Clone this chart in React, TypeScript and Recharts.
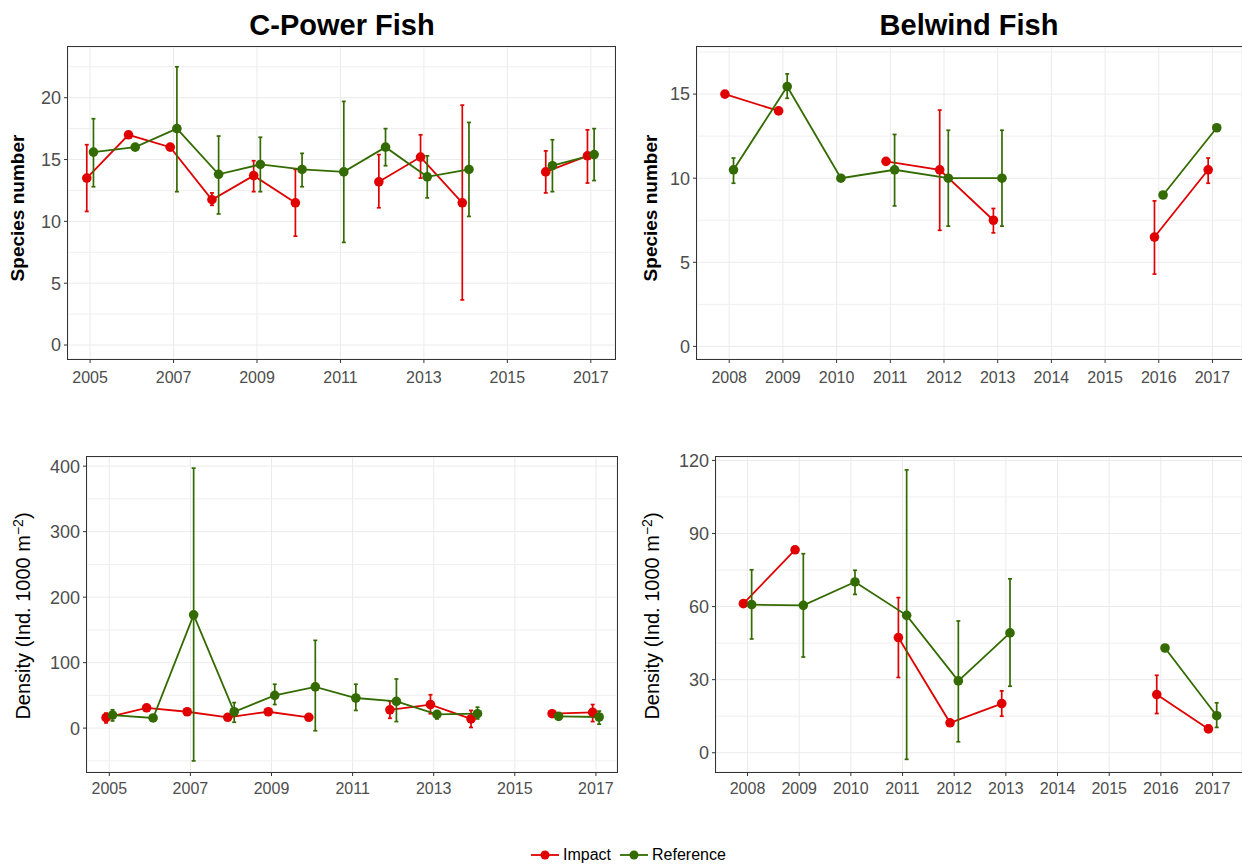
import React from "react";
import { ComposedChart, Line, XAxis, YAxis, CartesianGrid, ErrorBar, ReferenceLine } from "recharts";

const RED = "#e00000";
const GREEN = "#336b00";

// C-Power (2005-2017)
const cpYears = [2005, 2006, 2007, 2008, 2009, 2010, 2011, 2012, 2013, 2014, 2015, 2016, 2017];
const cpSpImpact = [13.5, 17.0, 16.0, 11.75, 13.7, 11.5, null, 13.2, 15.2, 11.5, null, 14.0, 15.3];
const cpSpImpactLo = [10.8, null, null, 11.3, 12.4, 8.8, null, 11.1, 13.5, 3.65, null, 12.3, 13.1];
const cpSpImpactHi = [16.2, null, null, 12.3, 14.9, 14.2, null, 15.4, 17.0, 19.4, null, 15.7, 17.4];
const cpSpRef = [15.6, 16.0, 17.5, 13.8, 14.6, 14.2, 14.0, 16.0, 13.6, 14.2, null, 14.5, 15.4];
const cpSpRefLo = [12.8, null, 12.4, 10.6, 12.4, 12.8, 8.3, 14.5, 11.9, 10.4, null, 12.4, 13.3];
const cpSpRefHi = [18.3, null, 22.5, 16.9, 16.8, 15.5, 19.7, 17.5, 15.3, 18.0, null, 16.6, 17.5];

const cpDnImpact = [16, 31, 25, 16.5, 25, 16.5, null, 28, 36, 14, null, 22, 24];
const cpDnImpactLo = [8, null, null, null, null, null, null, 15, 22, 1, null, null, 10];
const cpDnImpactHi = [23, null, null, null, null, null, null, 41, 51, 27, null, null, 36];
const cpDnRef = [20, 15.5, 173, 25, 50, 63, 46, 41, 21, 22, null, 18, 17];
const cpDnRefLo = [11, null, -50, 9, 36, -4, 27, 10, 14, 14, null, null, 6];
const cpDnRefHi = [28, null, 397, 39, 67, 134, 67, 75, 26, 32, null, null, 26];

// Belwind (2008-2017)
const bwYears = [2008, 2009, 2010, 2011, 2012, 2013, 2014, 2015, 2016, 2017];
const bwSpImpact = [15, 14, null, 11, 10.5, 7.5, null, null, 6.5, 10.5];
const bwSpImpactLo = [null, null, null, null, 6.9, 6.75, null, null, 4.3, 9.7];
const bwSpImpactHi = [null, null, null, null, 14.05, 8.2, null, null, 8.65, 11.2];
const bwSpRef = [10.5, 15.45, 10, 10.5, 10, 10, null, null, 9, 13];
const bwSpRefLo = [9.7, 14.75, null, 8.35, 7.15, 7.15, null, null, null, null];
const bwSpRefHi = [11.2, 16.2, null, 12.6, 12.85, 12.85, null, null, null, null];

const bwDnImpact = [61.2, 83.3, null, 47.3, 12.3, 20.2, null, null, 23.9, 9.8];
const bwDnImpactLo = [null, null, null, 30.9, null, 15, null, null, 16.1, 8.6];
const bwDnImpactHi = [null, null, null, 63.7, null, 25.4, null, null, 31.8, 11.3];
const bwDnRef = [60.8, 60.5, 70.1, 56.4, 29.5, 49.2, null, null, 43, 15.2];
const bwDnRefLo = [46.7, 39.3, 65, -2.7, 4.5, 27.3, null, null, null, 10.4];
const bwDnRefHi = [75.1, 81.7, 74.9, 116.1, 54.1, 71.4, null, null, null, 20.5];

// axis ticks
const cpXTicks = [2005, 2007, 2009, 2011, 2013, 2015, 2017];
const bwXTicks = [2008, 2009, 2010, 2011, 2012, 2013, 2014, 2015, 2016, 2017];
const cpSpYTicks = [0, 5, 10, 15, 20];
const cpSpYMinor = [2.5, 7.5, 12.5, 17.5, 22.5];
const bwSpYTicks = [0, 5, 10, 15];
const bwSpYMinor = [2.5, 7.5, 12.5, 17.5];
const cpDnYTicks = [0, 100, 200, 300, 400];
const cpDnYMinor = [-50, 50, 150, 250, 350];
const bwDnYTicks = [0, 30, 60, 90, 120];
const bwDnYMinor = [15, 45, 75, 105];

type Num = number | null;

function rows(years: number[], vals: Num[], lo: Num[], hi: Num[], shift: number) {
  return years.map((y, i) => {
    const v = vals[i];
    const l = lo[i];
    const h = hi[i];
    return {
      x: y + shift,
      v,
      err: v == null || l == null || h == null ? null : [v - (l as number), (h as number) - v],
    };
  });
}

const DODGE = 0.08;

type PanelProps = {
  plotLeft: number;
  plotTop: number;
  plotRight: number;
  plotBottom: number;
  xDomain: [number, number];
  yDomain: [number, number];
  xTicks: number[];
  yTicks: number[];
  yMinor: number[];
  xTickGap: number;
  impact: any[];
  reference: any[];
};

function Panel(p: PanelProps) {
  const yW = 60;
  const xH = 40;
  const mt = 5;
  const w = p.plotRight - p.plotLeft + yW;
  const h = p.plotBottom - p.plotTop + mt + xH;
  const dotR = 4.8;
  return (
    <>
      <div style={{ position: "absolute", left: p.plotLeft - yW, top: p.plotTop - mt }}>
        <ComposedChart width={w} height={h} margin={{ top: mt, right: 0, left: 0, bottom: 0 }}>
          <CartesianGrid stroke="#ebebeb" strokeWidth={1} />
          {p.yMinor.map((m) => (
            <ReferenceLine key={m} y={m} stroke="#efefef" strokeWidth={1} ifOverflow="hidden" />
          ))}
          <XAxis
            type="number"
            dataKey="x"
            domain={p.xDomain}
            ticks={p.xTicks}
            allowDataOverflow
            height={xH}
            axisLine={false}
            tickLine={{ stroke: "#333333" }}
            tickSize={4}
            tickMargin={p.xTickGap}
            tick={{ fontSize: 16, fill: "#4d4d4d" }}
            interval={0}
          />
          <YAxis
            type="number"
            domain={p.yDomain}
            ticks={p.yTicks}
            allowDataOverflow
            width={yW}
            axisLine={false}
            tickLine={{ stroke: "#333333" }}
            tickSize={4}
            tickMargin={3}
            tick={{ fontSize: 18, fill: "#4d4d4d" }}
            interval={0}
          />
          <Line
            data={p.impact}
            dataKey="v"
            name="Impact"
            stroke={RED}
            strokeWidth={1.8}
            dot={{ r: dotR, fill: RED, stroke: RED, strokeWidth: 0 }}
            activeDot={false}
            isAnimationActive={false}
          >
            <ErrorBar dataKey="err" width={2} stroke={RED} strokeWidth={1.7} direction="y" />
          </Line>
          <Line
            data={p.reference}
            dataKey="v"
            name="Reference"
            stroke={GREEN}
            strokeWidth={1.8}
            dot={{ r: dotR, fill: GREEN, stroke: GREEN, strokeWidth: 0 }}
            activeDot={false}
            isAnimationActive={false}
          >
            <ErrorBar dataKey="err" width={2} stroke={GREEN} strokeWidth={1.7} direction="y" />
          </Line>
        </ComposedChart>
      </div>
      <div
        style={{
          position: "absolute",
          left: p.plotLeft - 1,
          top: p.plotTop - 1,
          width: p.plotRight - p.plotLeft + 2,
          height: p.plotBottom - p.plotTop + 2,
          border: "1px solid #333333",
          boxSizing: "border-box",
          pointerEvents: "none",
        }}
      />
    </>
  );
}

function YLabel({ x, y, bold, children }: { x: number; y: number; bold?: boolean; children: React.ReactNode }) {
  return (
    <div
      style={{
        position: "absolute",
        left: x,
        top: y,
        transform: "translate(-50%, -50%) rotate(-90deg)",
        whiteSpace: "nowrap",
        fontSize: bold ? 19 : 20,
        fontWeight: bold ? 700 : 400,
        color: "#000",
      }}
    >
      {children}
    </div>
  );
}

function Title({ x, children }: { x: number; children: React.ReactNode }) {
  return (
    <div
      style={{
        position: "absolute",
        left: x,
        top: 25,
        transform: "translate(-50%, -50%)",
        whiteSpace: "nowrap",
        fontSize: 29,
        fontWeight: 700,
      }}
    >
      {children}
    </div>
  );
}

function Key({ color }: { color: string }) {
  return (
    <svg width={28} height={12} style={{ display: "block" }}>
      <line x1={0} y1={6} x2={28} y2={6} stroke={color} strokeWidth={1.8} />
      <circle cx={14} cy={6} r={4.5} fill={color} />
    </svg>
  );
}

const density = (
  <span>
    Density (Ind. 1000 m<sup style={{ fontSize: 14 }}>−2</sup>)
  </span>
);

export default function App() {
  return (
    <div
      style={{
        position: "absolute",
        left: 0,
        top: 0,
        width: 1242,
        height: 867,
        overflow: "hidden",
        background: "#fff",
        fontFamily: "'Liberation Sans', Arial, sans-serif",
      }}
    >
      <Title x={342}>C-Power Fish</Title>
      <Title x={969}>Belwind Fish</Title>

      <Panel
        plotLeft={68}
        plotTop={47}
        plotRight={615}
        plotBottom={359}
        xDomain={[2004.47, 2017.58]}
        yDomain={[-1.13, 24.1]}
        xTicks={cpXTicks}
        yTicks={cpSpYTicks}
        yMinor={cpSpYMinor}
        xTickGap={9}
        impact={rows(cpYears, cpSpImpact, cpSpImpactLo, cpSpImpactHi, -DODGE)}
        reference={rows(cpYears, cpSpRef, cpSpRefLo, cpSpRefHi, DODGE)}
      />
      <Panel
        plotLeft={697}
        plotTop={47}
        plotRight={1242}
        plotBottom={359}
        xDomain={[2007.4, 2017.55]}
        yDomain={[-0.75, 17.8]}
        xTicks={bwXTicks}
        yTicks={bwSpYTicks}
        yMinor={bwSpYMinor}
        xTickGap={9}
        impact={rows(bwYears, bwSpImpact, bwSpImpactLo, bwSpImpactHi, -DODGE)}
        reference={rows(bwYears, bwSpRef, bwSpRefLo, bwSpRefHi, DODGE)}
      />
      <Panel
        plotLeft={87}
        plotTop={457}
        plotRight={617}
        plotBottom={772}
        xDomain={[2004.45, 2017.52]}
        yDomain={[-67, 414]}
        xTicks={cpXTicks}
        yTicks={cpDnYTicks}
        yMinor={cpDnYMinor}
        xTickGap={7}
        impact={rows(cpYears, cpDnImpact, cpDnImpactLo, cpDnImpactHi, -DODGE)}
        reference={rows(cpYears, cpDnRef, cpDnRefLo, cpDnRefHi, DODGE)}
      />
      <Panel
        plotLeft={716}
        plotTop={457}
        plotRight={1242}
        plotBottom={772}
        xDomain={[2007.39, 2017.57]}
        yDomain={[-7.9, 121.4]}
        xTicks={bwXTicks}
        yTicks={bwDnYTicks}
        yMinor={bwDnYMinor}
        xTickGap={7}
        impact={rows(bwYears, bwDnImpact, bwDnImpactLo, bwDnImpactHi, -DODGE)}
        reference={rows(bwYears, bwDnRef, bwDnRefLo, bwDnRefHi, DODGE)}
      />

      <YLabel x={18} y={208} bold>Species number</YLabel>
      <YLabel x={651} y={208} bold>Species number</YLabel>
      <YLabel x={22} y={616}>{density}</YLabel>
      <YLabel x={651} y={616}>{density}</YLabel>

      <div
        style={{
          position: "absolute",
          left: 531,
          top: 846,
          display: "flex",
          alignItems: "center",
          fontSize: 16,
          color: "#000",
        }}
      >
        <Key color={RED} />
        <span style={{ marginLeft: 4, marginRight: 9 }}>Impact</span>
        <Key color={GREEN} />
        <span style={{ marginLeft: 4 }}>Reference</span>
      </div>
    </div>
  );
}
